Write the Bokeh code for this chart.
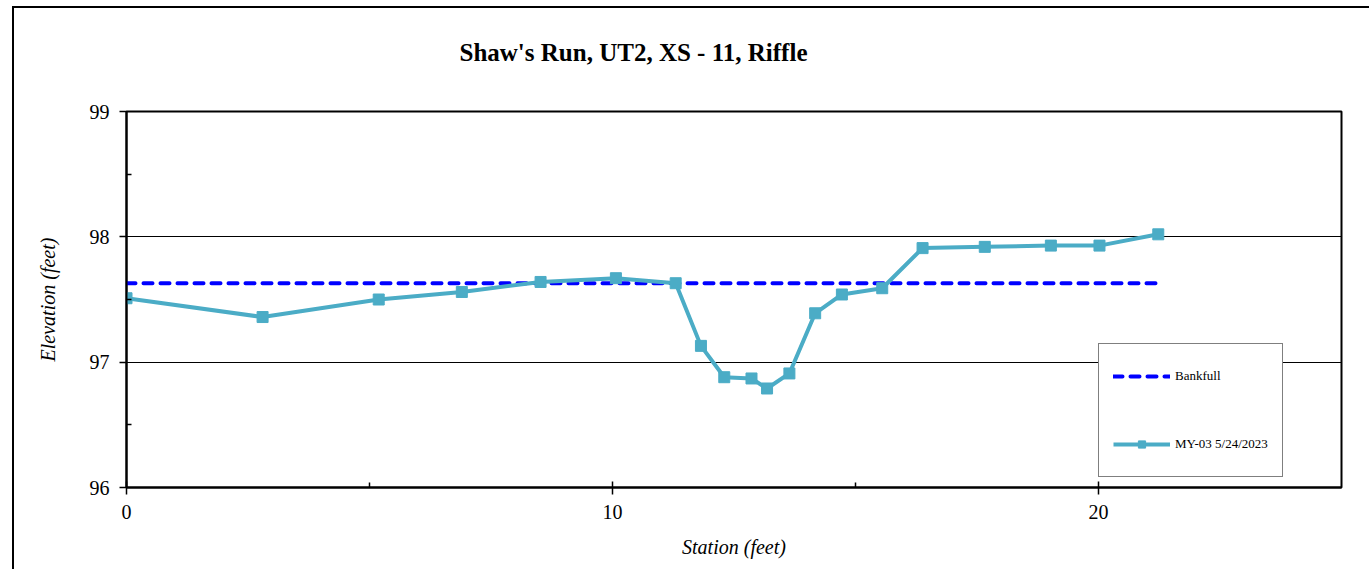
from bokeh.plotting import figure
from bokeh.models import Range1d, FixedTicker, Legend, LegendItem
from bokeh.embed import file_html
from bokeh.resources import INLINE

# Cross-section survey (station vs. elevation, feet)
station = [0.0, 2.80, 5.19, 6.90, 8.52, 10.07, 11.30, 11.82, 12.30, 12.86,
           13.18, 13.64, 14.17, 14.72, 15.55, 16.38, 17.66, 19.02, 20.02, 21.23]
elevation = [97.51, 97.36, 97.50, 97.56, 97.64, 97.67, 97.63, 97.13, 96.88, 96.87,
             96.79, 96.91, 97.39, 97.54, 97.59, 97.91, 97.92, 97.93, 97.93, 98.02]

# Bankfull stage across the section
bankfull_station = [0.0, 21.23]
bankfull_elevation = [97.63, 97.63]

x_ticks = [0, 10, 20]
x_minor = [5, 15]
y_ticks = [96, 97, 98, 99]
y_minor = [96.5, 97.5, 98.5]

TITLE = "Shaw's Run, UT2, XS - 11, Riffle"
SERIF = "Liberation Serif"
TEAL = "#4BACC6"

p = figure(
    width=1357, height=563,
    x_range=Range1d(0, 25), y_range=Range1d(96, 99),
    output_backend="svg", toolbar_location=None,
    min_border_left=112, min_border_right=30,
    min_border_top=103, min_border_bottom=84,
    background_fill_color="white", border_fill_color="white",
    styles={"margin-left": "12px", "margin-top": "6px",
            "border-left": "2px solid black", "border-top": "2px solid black"},
)

p.outline_line_color = "black"
p.outline_line_width = 2

# Title: a blank second line keeps it well clear of the frame
p.title.text = TITLE + "\n "
p.title.align = "left"
p.title.offset = 333
p.title.standoff = 38
p.title.text_font = SERIF
p.title.text_font_size = "25px"
p.title.text_font_style = "bold"
p.title.text_color = "black"

# Axes
for ax in (p.xaxis[0], p.yaxis[0]):
    ax.axis_line_color = "black"
    ax.axis_line_width = 2
    ax.major_tick_line_color = "black"
    ax.major_tick_line_width = 1.5
    ax.minor_tick_line_color = "black"
    ax.minor_tick_line_width = 1.5
    ax.minor_tick_in = 5
    ax.minor_tick_out = 0
    ax.major_tick_out = 7
    ax.major_label_text_font = SERIF
    ax.major_label_text_font_size = "20px"
    ax.major_label_text_color = "black"
    ax.axis_label_text_font = SERIF
    ax.axis_label_text_font_size = "20px"
    ax.axis_label_text_font_style = "italic"
    ax.axis_label_text_color = "black"
    ax.major_label_standoff = 10

p.xaxis.ticker = FixedTicker(ticks=x_ticks, minor_ticks=x_minor)
p.yaxis.ticker = FixedTicker(ticks=y_ticks, minor_ticks=y_minor)
p.xaxis.major_tick_in = 6
p.yaxis.major_tick_in = 0
p.xaxis.axis_label = "Station (feet)"
p.yaxis.axis_label = "Elevation (feet)"
p.xaxis.axis_label_standoff = 14
p.yaxis.axis_label_standoff = 28

p.xgrid.visible = False
p.ygrid.ticker = FixedTicker(ticks=[97, 98])
p.ygrid.grid_line_color = "black"
p.ygrid.grid_line_width = 1
p.ygrid.grid_line_alpha = 1

# Series
bank = p.line(bankfull_station, bankfull_elevation, line_color="#0000FF",
              line_width=4, line_dash="9 8", line_cap="round")
survey_line = p.line(station, elevation, line_color=TEAL, line_width=4)
survey_pts = p.scatter(station, elevation, marker="square", size=11,
                       fill_color=TEAL, line_color=TEAL)

legend = Legend(
    items=[LegendItem(label="Bankfull", renderers=[bank]),
           LegendItem(label="MY-03 5/24/2023", renderers=[survey_line, survey_pts])],
    location=(972, 10),
    border_line_color="black", border_line_width=1.5,
    background_fill_color="white", background_fill_alpha=1,
    padding=14, spacing=32, margin=0,
    glyph_width=57, glyph_height=18, label_height=36,
    label_standoff=5,
    label_text_font=SERIF, label_text_font_size="13px", label_text_color="black",
)
p.add_layout(legend, "center")

open("out.html", "w").write(file_html(p, INLINE))
